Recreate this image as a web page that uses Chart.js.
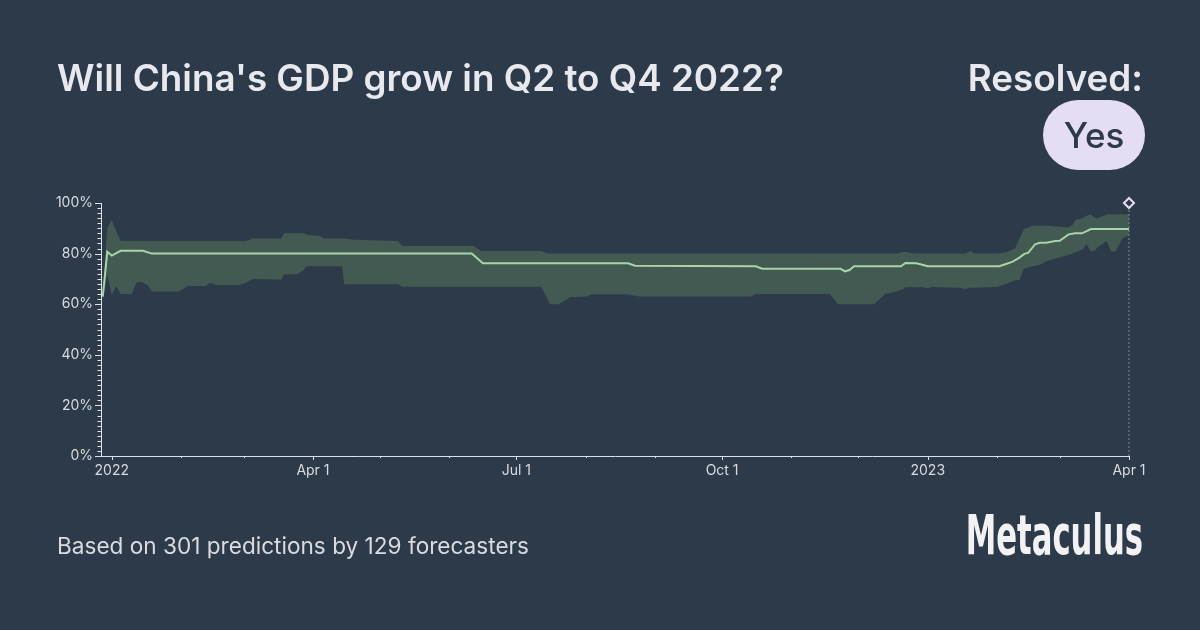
<!DOCTYPE html>
<html><head><meta charset="utf-8">
<script src="https://cdn.jsdelivr.net/npm/chart.js@4.4.1/dist/chart.umd.min.js"></script>
<style>
html,body{margin:0;padding:0;background:#2d3a4a;width:1200px;height:630px;overflow:hidden;font-family:Inter,'Noto Sans',sans-serif;}
#wrap{position:relative;width:1200px;height:630px;}
#c{position:absolute;left:0;top:0;}
.title{position:absolute;left:57px;top:59px;font-size:36.8px;line-height:37px;font-weight:600;color:#e8e9ee;white-space:nowrap;}
.resolved{position:absolute;right:57px;top:59px;font-size:36.8px;line-height:37px;font-weight:600;color:#e8e9ee;white-space:nowrap;}
.badge{position:absolute;left:1043px;top:100px;width:102px;height:70px;border-radius:35px;background:#e5def2;color:#2d3a4a;font-size:35px;font-weight:500;display:flex;align-items:center;justify-content:center;}
.foot{position:absolute;left:57px;top:535px;font-size:22.6px;line-height:22px;color:#d9dbe0;white-space:nowrap;}
.logo{position:absolute;right:57px;top:508px;font-family:'Liberation Sans Narrow','DejaVu Sans Condensed',sans-serif;font-weight:bold;font-size:55px;line-height:55px;color:#f2f2f4;transform:scaleX(0.62);transform-origin:right center;white-space:nowrap;}
</style></head>
<body><div id="wrap">
<canvas id="c" width="1200" height="630"></canvas>
<div class="title">Will China's GDP grow in Q2 to Q4 2022?</div>
<div class="resolved">Resolved:</div>
<div class="badge">Yes</div>
<div class="foot">Based on 301 predictions by 129 forecasters</div>
<div class="logo">Metaculus</div>
</div>
<script>
// ---- data (percent) ----
const bandDates = ['2021-12-28','2021-12-30','2022-01-01','2022-01-03','2022-01-05','2022-01-10','2022-01-12','2022-01-14','2022-01-17','2022-01-19','2022-01-31','2022-02-04','2022-02-12','2022-02-14','2022-02-17','2022-02-27','2022-03-02','2022-03-05','2022-03-18','2022-03-19','2022-03-25','2022-03-28','2022-03-29','2022-04-04','2022-04-06','2022-04-14','2022-04-15','2022-04-19','2022-05-09','2022-05-11','2022-06-12','2022-06-15','2022-07-12','2022-07-15','2022-07-16','2022-07-20','2022-07-25','2022-08-01','2022-08-04','2022-08-19','2022-08-25','2022-10-14','2022-10-16','2022-11-18','2022-11-22','2022-12-08','2022-12-13','2022-12-18','2022-12-21','2022-12-22','2022-12-26','2022-12-30','2023-01-01','2023-01-03','2023-01-15','2023-01-18','2023-01-20','2023-01-22','2023-02-01','2023-02-05','2023-02-09','2023-02-11','2023-02-13','2023-02-17','2023-02-20','2023-02-23','2023-03-05','2023-03-07','2023-03-08','2023-03-11','2023-03-13','2023-03-15','2023-03-17','2023-03-18','2023-03-22','2023-03-24','2023-03-26','2023-03-29','2023-04-01'];
const bandUpper = [64,90,93.3,89,85.1,85,85,85,85,85,85,85,85,85,85,85,85,86,86,88,88,88,87.5,87,86,86,86,85.5,85,83,83,81,81,80,80,80,80,80,80,80,80,80,80,80,80,80,80,80,80.6,80.6,80,80,80,80,80,80,81,80,80,80.5,82,86,89.6,91,91,91,90.4,91.5,93.3,94,95,95.5,94,94,95.5,95.6,95.6,95.6,95.6];
const bandLower = [62,71.5,63.6,67.2,64,64,68.5,68.9,67.6,65,65,67.2,67.2,68.5,67.6,67.6,68.5,70,69.8,71.8,71.8,73.5,75,75,75,75,67.9,67.9,67.9,66.9,66.9,66.9,66.9,62,60,60,62.7,63,63.9,63.9,63,63,64,64,60,60,64,65,66,66.7,66.7,66.7,66.3,66.8,66.5,66,66.5,66.5,66.9,68,69.5,69.6,74,75,75.5,77,79.5,80,80.5,81.4,83.8,80.8,81.4,82.5,85,80.8,80.8,86,87.4];
const medianDates = ['2021-12-28','2021-12-30','2022-01-01','2022-01-05','2022-01-15','2022-01-19','2022-06-11','2022-06-16','2022-08-20','2022-08-23','2022-10-16','2022-10-19','2022-11-23','2022-11-25','2022-11-27','2022-11-29','2022-12-20','2022-12-22','2022-12-27','2023-01-01','2023-02-02','2023-02-05','2023-02-08','2023-02-11','2023-02-13','2023-02-15','2023-02-18','2023-02-20','2023-02-23','2023-02-27','2023-03-01','2023-03-05','2023-03-08','2023-03-11','2023-03-15','2023-04-01'];
const medianValues = [63,80.7,79.2,81.1,81.1,80,80,76.2,76.2,75.2,75,74,74,73,73.5,75,75,76.3,76.2,75,75,75.9,76.8,78.4,79.8,80.4,83.7,84.3,84.3,85,85.1,87.6,88,88,89.7,89.7];
const resolutionDate = '2023-04-01';
const resolutionValue = 100;
const axisStartDate = '2021-12-27';
const axisEndDate = '2023-04-01';
const monthTickDates = ['2022-01-01','2022-02-01','2022-03-01','2022-04-01','2022-05-01','2022-06-01','2022-07-01','2022-08-01','2022-09-01','2022-10-01','2022-11-01','2022-12-01','2023-01-01','2023-02-01','2023-03-01','2023-04-01'];
const quarterTickDates = ['2022-01-01','2022-04-01','2022-07-01','2022-10-01','2023-01-01','2023-04-01'];
const quarterTickLabels = ['2022','Apr 1','Jul 1','Oct 1','2023','Apr 1'];
const yTickLabelValues = [0,20,40,60,80,100];

// ---- helpers ----
const EPOCH = Date.UTC(2022,0,1);
function dayOf(s){const [y,m,d]=s.split('-').map(Number);return (Date.UTC(y,m-1,d)-EPOCH)/86400000;}
const pts = (ds, vs) => ds.map((d,i)=>({x:dayOf(d), y:vs[i]}));

const BG='#2d3a4a', AXIS='#dfe1e6', TXT='#d9dbe0', BAND='#435a52', LINE='#a7d5a5', RES='#e5def2';
const monthDays = monthTickDates.map(dayOf);
const quarterDays = quarterTickDates.map(dayOf);

const tickPlugin = {
  id:'tickPlugin',
  afterDraw(chart){
    const c = chart.ctx, xs = chart.scales.x, ys = chart.scales.y, a = chart.chartArea;
    c.save(); c.strokeStyle = AXIS; c.lineWidth = 1;
    for(let v=0; v<=100; v+=2){
      const py = Math.round(ys.getPixelForValue(v))+0.5;
      const len = (v%20===0)?6:3.5;
      c.beginPath(); c.moveTo(a.left, py); c.lineTo(a.left-len, py); c.stroke();
    }
    monthDays.forEach(d=>{
      const px = Math.round(xs.getPixelForValue(d))+0.5;
      const len = quarterDays.includes(d)?4:2;
      c.beginPath(); c.moveTo(px, a.bottom); c.lineTo(px, a.bottom+len); c.stroke();
    });
    c.restore();
  }
};

new Chart(document.getElementById('c'), {
  type:'line',
  data:{datasets:[
    {data:pts(bandDates,bandUpper), order:4, borderWidth:0, pointRadius:0, fill:false, backgroundColor:BAND, borderColor:'rgba(0,0,0,0)'},
    {data:pts(bandDates,bandLower), order:3, borderWidth:0, pointRadius:0, fill:'-1', backgroundColor:BAND, borderColor:'rgba(0,0,0,0)'},
    {data:pts(medianDates,medianValues), order:1, borderWidth:2, pointRadius:0, fill:false, borderColor:LINE},
    {data:[{x:dayOf(resolutionDate),y:0},{x:dayOf(resolutionDate),y:resolutionValue-2}], order:2, borderWidth:1, borderDash:[2,2], borderColor:'#7f8996', pointRadius:0, fill:false, clip:false},
    {data:[{x:dayOf(resolutionDate),y:resolutionValue}], order:0, pointStyle:'rectRot', pointRadius:5, pointBorderWidth:2, pointBorderColor:RES, pointBackgroundColor:BG, showLine:false, clip:false}
  ]},
  options:{
    responsive:false, animation:false, events:[],
    layout:{padding:{left:0,right:71,top:203,bottom:0}},
    plugins:{legend:{display:false}, tooltip:{enabled:false}},
    scales:{
      x:{type:'linear', min:dayOf(axisStartDate)+0.2, max:dayOf(axisEndDate),
        afterBuildTicks:(s)=>{s.ticks = quarterDays.map(v=>({value:v}));},
        afterFit:(s)=>{s.height=174;},
        grid:{drawOnChartArea:false, drawTicks:true, tickLength:4, tickColor:'rgba(0,0,0,0)'},
        border:{display:true, color:AXIS, width:1},
        ticks:{autoSkip:false, maxRotation:0, padding:2, color:TXT, font:{family:'Inter', size:14},
          callback:(v)=>{const i=quarterDays.indexOf(v);return i>=0?quarterTickLabels[i]:'';}}
      },
      y:{type:'linear', min:0, max:100,
        afterBuildTicks:(s)=>{s.ticks = yTickLabelValues.map(v=>({value:v}));},
        afterFit:(s)=>{s.width=101;},
        grid:{drawOnChartArea:false, drawTicks:true, tickLength:5, tickColor:'rgba(0,0,0,0)'},
        border:{display:true, color:AXIS, width:1},
        ticks:{padding:3, color:TXT, font:{family:'Inter', size:14}, callback:(v)=>v+'%'}
      }
    }
  },
  plugins:[tickPlugin]
});
</script>
</body></html>
